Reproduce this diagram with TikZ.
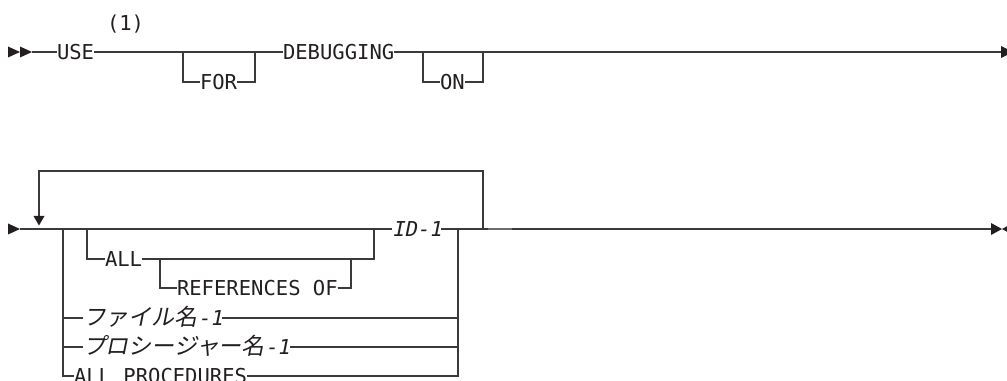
\documentclass[tikz,border=0pt]{standalone}
\usepackage{fontspec}
\newfontfamily\rrfont{DejaVu Sans Mono}
\newfontfamily\rrit{DejaVu Sans Mono}[FakeSlant=0.2]
\newfontfamily\jpfont{Noto Sans CJK JP}[FakeSlant=0.2]
\newcommand\rrsize{\fontsize{15.4pt}{18pt}\selectfont}
\newcommand\jp[1]{{\jpfont\fontsize{17.2pt}{20pt}\selectfont #1}}
\definecolor{ink}{HTML}{231F20}
\definecolor{rule}{HTML}{3A3A3A}
\tikzset{
  lbl/.style={inner sep=0pt, outer sep=0pt, anchor=west, text=ink,
    font=\rrfont\rrsize, text height=11.2pt, text depth=0pt},
  ital/.style={lbl, font=\rrit\rrsize},
  ln/.style={draw=rule, line width=0.95pt},
  tip/.style={fill=ink, draw=none},
}
\begin{document}
\begin{tikzpicture}[x=0.75pt, y=-0.75pt]
\useasboundingbox (0,0) rectangle (1007,381);
% ---------------- row 1 ----------------
\coordinate (s1) at (32,52);
\coordinate (forL) at (183,52);
\coordinate (forR) at (255,52);
\coordinate (onL) at (423,52);
\coordinate (onR) at (483,52);
\coordinate (e1) at (1001,52);
\node[lbl] (use) at (57,52) {USE};
\node[lbl, anchor=base west] (note) at (107,31) {(1)};
\node[lbl] (for) at (200,82) {FOR};
\node[lbl] (debug) at (283,52) {DEBUGGING};
\node[lbl] (on) at (440,82) {ON};
\fill[tip] (8,46.5) -- (20,52) -- (8,57.5) -- cycle;
\fill[tip] (20,46.5) -- (32,52) -- (20,57.5) -- cycle;
\draw[ln] (s1) -- (use.west);
\draw[ln] (use.east) -- (debug.west);
\draw[ln] (forL) |- (for.west);
\draw[ln] (for.east) -| (forR);
\draw[ln] (debug.east) -- (e1);
\draw[ln] (onL) |- (on.west);
\draw[ln] (on.east) -| (onR);
\fill[tip] (1001,46) -- (1013,52) -- (1001,58) -- cycle;
% ---------------- row 2 ----------------
\coordinate (s2) at (20,229);
\coordinate (loopL) at (39,216);
\coordinate (loopR) at (483,229);
\coordinate (brL) at (63,229);
\coordinate (allJ) at (87,229);
\coordinate (allR) at (374,229);
\coordinate (refJ) at (160,259);
\coordinate (refR) at (351,259);
\coordinate (brR) at (458,229);
\coordinate (fileR) at (458,318);
\coordinate (procR) at (458,347);
\coordinate (fileL) at (63,318);
\coordinate (procL) at (63,347);
\coordinate (e2) at (991,229);
\fill[tip] (8,223.5) -- (20,229) -- (8,234.5) -- cycle;
\node[ital] (id) at (392,229) {ID-1};
\node[lbl] (all) at (105,259) {ALL};
\node[lbl] (refs) at (177,288) {REFERENCES OF};
\node[ital] (file) at (83,318) {\jp{ファイル名}-1};
\node[ital] (proc) at (83,347) {\jp{プロシージャー名}-1};
\node[lbl] (allp) at (74,376) {ALL PROCEDURES};
\draw[ln] (s2) -- (id.west);
\draw[ln] (id.east) -- (e2);
\draw[ln] (loopR) |- (39,171) -- (loopL);
\fill[tip] (33.5,216) -- (44.5,216) -- (39,225.5) -- cycle;
\draw[ln] (allJ) |- (all.west);
\draw[ln] (all.east) -| (allR);
\draw[ln] (refJ) |- (refs.west);
\draw[ln] (refs.east) -| (refR);
\draw[ln] (brL) |- (allp.west);
\draw[ln] (allp.east) -| (brR);
\draw[ln] (fileL) -- (file.west);
\draw[ln] (file.east) -- (fileR);
\draw[ln] (procL) -- (proc.west);
\draw[ln] (proc.east) -- (procR);
\draw[gray!85!black, line width=1.7pt] (488,229) -- (512,229);
\fill[tip] (991,223) -- (1002,229) -- (991,235) -- cycle;
\fill[tip] (1013,223) -- (1002,229) -- (1013,235) -- cycle;
\end{tikzpicture}
\end{document}
